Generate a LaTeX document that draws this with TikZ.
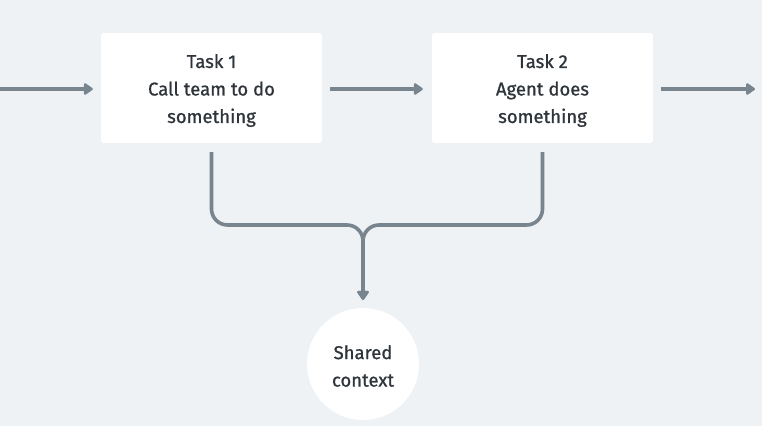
\documentclass[tikz,border=0pt]{standalone}
\usepackage{fontspec}
\setmainfont{Fira Sans}
\newfontfamily\tfont{Fira Sans}[BoldFont={Fira Sans},BoldFeatures={FakeBold=0.9}]
\usetikzlibrary{arrows.meta}
\definecolor{bg}{HTML}{EEF2F5}
\definecolor{ln}{HTML}{78848E}
\definecolor{tx}{HTML}{2E343A}
\tikzset{
  taskbox/.style={fill=white, rounded corners=3pt, minimum width=221pt, minimum height=110pt, inner sep=0pt},
  ctxnode/.style={circle, fill=white, minimum size=112pt, inner sep=0pt},
  lbl/.style={align=center, text=tx, font=\tfont\bfseries\fontsize{18.5}{27.5}\selectfont},
  conn/.style={draw=ln, line width=3.6pt, -{Triangle[length=10pt,width=13pt,round]}},
}
\begin{document}
\begin{tikzpicture}[x=1pt,y=-1pt]
\fill[bg] (0,0) rectangle (762,426);
\useasboundingbox (0,0) rectangle (762,426);
\node[taskbox] (t1) at (211.5,88) {};
\node[taskbox] (t2) at (542.5,88) {};
\node[lbl] (l1) at (211.5,90.5) {Task 1\\Call team to do\\something};
\node[lbl] (l2) at (542.5,90.5) {Task 2\\Agent does\\something};
\node[ctxnode] (ctx) at (363,364) {};
\node[lbl] (lc) at (363,366) {Shared\\context};
\coordinate (inL) at (0,89);
\coordinate (outR) at (755,89);
\coordinate (j) at (363,225);
\draw[conn, shorten >=8pt] (inL) -- (t1.west |- inL);
\draw[conn, shorten <=8pt, shorten >=9pt] (t1.east |- inL) -- (t2.west |- inL);
\draw[conn, shorten <=8pt] (t2.east |- inL) -- (outR);
\draw[conn, rounded corners=16pt, shorten >=8pt] ([yshift=-9pt]t1.south) |- (j) -- (ctx.north);
\draw[conn, rounded corners=16pt, shorten >=8pt] ([yshift=-9pt]t2.south) |- (j) -- (ctx.north);
\end{tikzpicture}
\end{document}
